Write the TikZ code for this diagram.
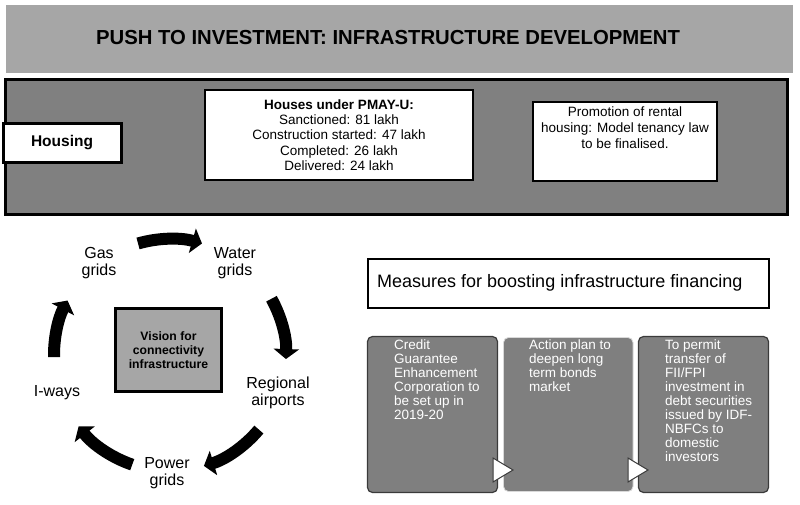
\documentclass[tikz,border=0pt]{standalone}
\usepackage{fontspec}
\setmainfont{Liberation Sans}
\usetikzlibrary{arrows.meta}
\definecolor{bannergray}{HTML}{A6A6A6}
\definecolor{bandgray}{HTML}{808080}
\definecolor{boxgray}{HTML}{7F7F7F}
\definecolor{rimgray}{HTML}{3A3A3A}
\tikzset{
  whitebox/.style={draw=black, fill=white, line width=2.2pt},
  cyclab/.style={align=center, font=\fontsize{16}{17}\selectfont, inner sep=0pt},
  cyc/.style={line width=12pt, line cap=butt, -{Triangle[width=25pt,length=10pt]}},
  finbox/.style={rounded corners=5pt, fill=boxgray, draw=rimgray, line width=1.2pt},
  fintext/.style={anchor=north west, align=left, inner sep=0pt, text=white,
     font=\fontsize{13.5}{14}\selectfont},
  pointer/.style={fill=white, draw=rimgray, line width=1pt, line join=miter}
}
\begin{document}
\begin{tikzpicture}[x=1pt,y=1pt]
\useasboundingbox (0,0) rectangle (800,505);
\fill[white] (0,0) rectangle (800,505);
% title banner
\fill[bannergray] (6,432) rectangle (793,500);
\node[font=\bfseries\fontsize{20.3}{22}\selectfont, inner sep=0pt] (title) at (388,467) {PUSH TO INVESTMENT: INFRASTRUCTURE DEVELOPMENT};
% housing band
\draw[fill=bandgray, line width=3pt] (5.5,290.5) rectangle (787.5,425.5);
\draw[whitebox, line width=3pt] (3.5,342.5) rectangle (121.5,381.5);
\node[font=\bfseries\fontsize{15.5}{17}\selectfont] (housing) at (62,362) {Housing};
\draw[whitebox] (205,325) rectangle (473,415);
\node[align=center, font=\fontsize{13.5}{15.3}\selectfont, inner sep=0pt] (pmay) at (339,370)
  {\textbf{Houses under PMAY-U:}\\Sanctioned: 81 lakh\\Construction started: 47 lakh\\Completed: 26 lakh\\Delivered: 24 lakh};
\draw[whitebox] (533,324) rectangle (717,403);
\node[anchor=north, align=center, font=\fontsize{13.5}{15.8}\selectfont, inner sep=0pt] (rental) at (625,398)
  {Promotion of rental\\housing: Model tenancy law\\to be finalised.};
% cycle
\coordinate (cc) at (170,150);
\draw[fill=bannergray, line width=3pt] (115.5,113.5) rectangle (221.5,196.5);
\node[align=center, font=\bfseries\fontsize{12.2}{14}\selectfont, inner sep=0pt] (vision) at (168.5,155)
  {Vision for\\connectivity\\infrastructure};
\node[cyclab] (gas) at (99,242) {Gas\\grids};
\node[cyclab] (water) at (235,242) {Water\\grids};
\node[cyclab] (air) at (278,112) {Regional\\airports};
\node[cyclab] (power) at (167,32) {Power\\grids};
\node[cyclab] (iways) at (57,112) {I-ways};
\draw[cyc] (cc) ++(106:116pt) arc[start angle=106, end angle=74, radius=116pt];
\draw[cyc] (cc) ++(29:116pt) arc[start angle=29, end angle=-2, radius=116pt];
\draw[cyc] (cc) ++(-40:116pt) arc[start angle=-40, end angle=-73, radius=116pt];
\draw[cyc] (cc) ++(-109:116pt) arc[start angle=-109, end angle=-142, radius=116pt];
\draw[cyc] (cc) ++(181:116pt) arc[start angle=181, end angle=152, radius=116pt];
% financing
\draw[fill=white, draw=black, line width=2pt] (368,197) rectangle (769,246);
\node[anchor=west, font=\fontsize{18}{20}\selectfont, inner sep=0pt] (measures) at (377,222)
  {Measures for boosting infrastructure financing};
\draw[finbox] (367.5,12.5) rectangle (497.5,168.5);
\draw[finbox, draw=white!85!black, line width=0.8pt] (503.5,13.5) rectangle (633,167.5);
\draw[finbox] (638.5,12.5) rectangle (768.5,168.5);
\node[fintext] (credit) at (394,165) {Credit\\Guarantee\\Enhancement\\Corporation to\\be set up in\\2019-20};
\node[fintext] (action) at (529,165) {Action plan to\\deepen long\\term bonds\\market};
\node[fintext] (permit) at (665,165) {To permit\\transfer of\\FII/FPI\\investment in\\debt securities\\issued by IDF-\\NBFCs to\\domestic\\investors};
\draw[pointer] (493,47) -- (493,23) -- (513,35) -- cycle;
\draw[pointer] (628,47) -- (628,23) -- (648,35) -- cycle;
\end{tikzpicture}
\end{document}
